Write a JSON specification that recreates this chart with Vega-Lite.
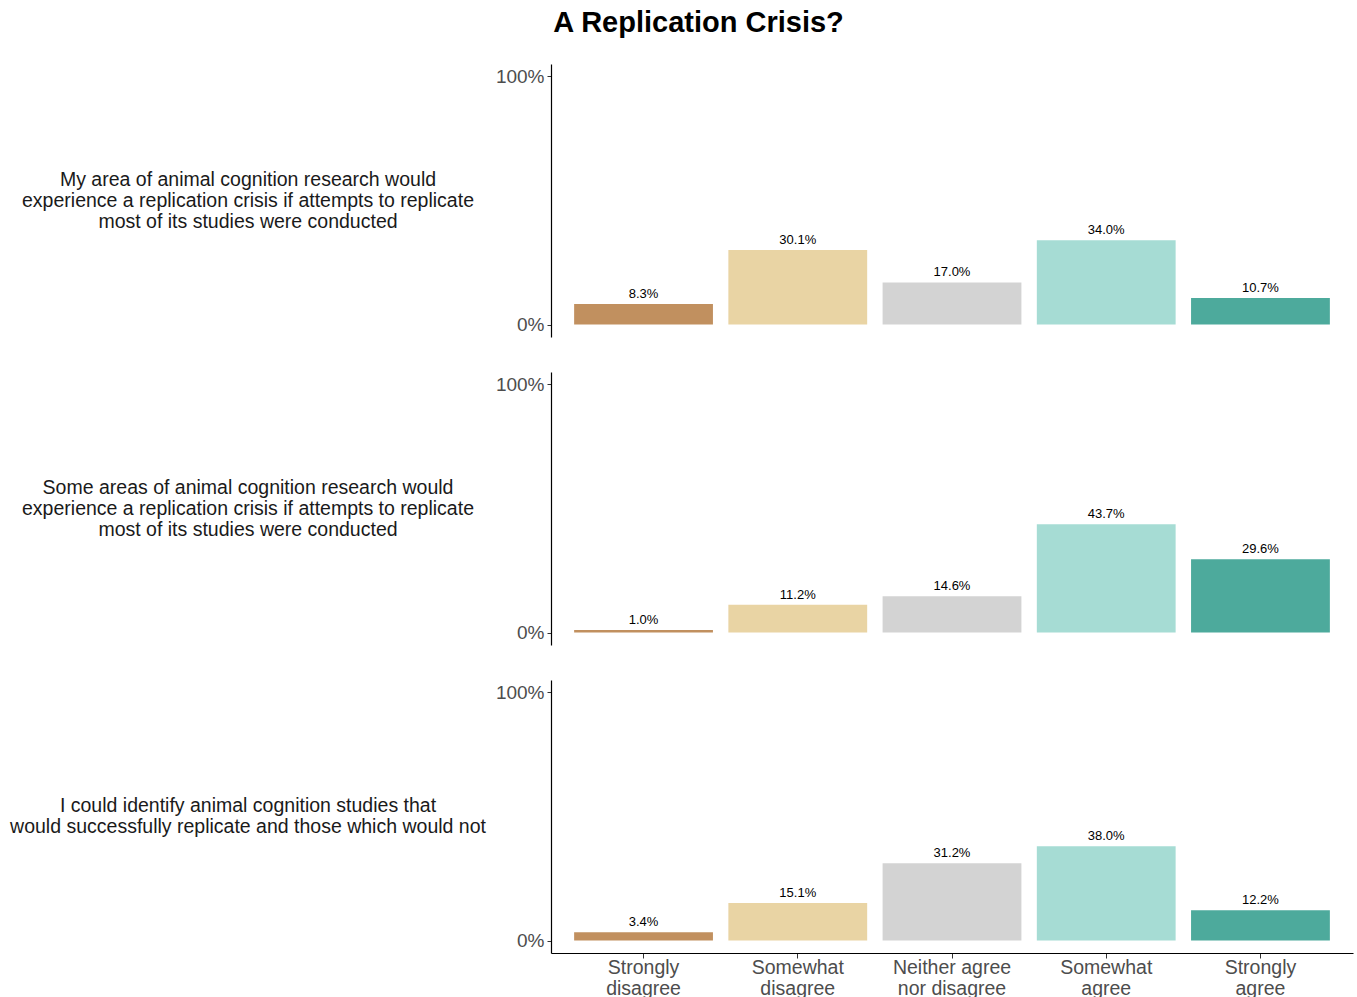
{
  "$schema": "https://vega.github.io/schema/vega-lite/v6.json",
  "padding": {"left": 10, "top": 9, "right": 4, "bottom": 0},
  "title": {"text": "A Replication Crisis?", "fontSize": 29, "fontWeight": "bold", "font": "Liberation Sans", "color": "#000000", "anchor": "middle", "offset": 26, "dx": 17},
  "datasets": {
    "questions": [
      {"qid": 1, "q": "My area of animal cognition research would\nexperience a replication crisis if attempts to replicate\nmost of its studies were conducted"},
      {"qid": 2, "q": "Some areas of animal cognition research would\nexperience a replication crisis if attempts to replicate\nmost of its studies were conducted"},
      {"qid": 3, "q": "I could identify animal cognition studies that\nwould successfully replicate and those which would not"}
    ],
    "responses": [
      {"qid": 1, "response": "Strongly disagree", "pct": 0.083},
      {"qid": 1, "response": "Somewhat disagree", "pct": 0.301},
      {"qid": 1, "response": "Neither agree nor disagree", "pct": 0.170},
      {"qid": 1, "response": "Somewhat agree", "pct": 0.340},
      {"qid": 1, "response": "Strongly agree", "pct": 0.107},
      {"qid": 2, "response": "Strongly disagree", "pct": 0.010},
      {"qid": 2, "response": "Somewhat disagree", "pct": 0.112},
      {"qid": 2, "response": "Neither agree nor disagree", "pct": 0.146},
      {"qid": 2, "response": "Somewhat agree", "pct": 0.437},
      {"qid": 2, "response": "Strongly agree", "pct": 0.296},
      {"qid": 3, "response": "Strongly disagree", "pct": 0.034},
      {"qid": 3, "response": "Somewhat disagree", "pct": 0.151},
      {"qid": 3, "response": "Neither agree nor disagree", "pct": 0.312},
      {"qid": 3, "response": "Somewhat agree", "pct": 0.380},
      {"qid": 3, "response": "Strongly agree", "pct": 0.122}
    ]
  },
  "spacing": 35,
  "vconcat": [
    {
      "bounds": "flush",
      "spacing": 65,
      "hconcat": [
        {
          "data": {"name": "questions"},
          "transform": [{"filter": "datum.qid == 1"}],
          "width": 476, "height": 273,
          "mark": {"type": "text", "lineBreak": "\n", "font": "Liberation Sans", "fontSize": 19.5, "lineHeight": 21, "align": "center", "baseline": "middle", "dy": -21, "color": "#1A1A1A"},
          "encoding": {"text": {"field": "q", "type": "nominal"}}
        },
        {
          "data": {"name": "responses"},
          "transform": [{"filter": "datum.qid == 1"}],
          "width": 802, "height": 273,
          "encoding": {
            "x": {
              "field": "response", "type": "nominal",
              "sort": ["Strongly disagree", "Somewhat disagree", "Neither agree nor disagree", "Somewhat agree", "Strongly agree"],
              "scale": {"paddingInner": 0.1, "paddingOuter": 0.15},
              "axis": null
            },
            "y": {
              "field": "pct", "type": "quantitative",
              "scale": {"domain": [-0.05, 1.05], "nice": false, "zero": false},
              "axis": {"title": null, "values": [0, 1], "format": ".0%"}
            }
          },
          "layer": [
            {
              "mark": {"type": "bar"},
              "encoding": {
                "y2": {"datum": 0},
                "color": {"field": "response", "type": "nominal", "legend": null, "scale": {"domain": ["Strongly disagree", "Somewhat disagree", "Neither agree nor disagree", "Somewhat agree", "Strongly agree"], "range": ["#C1905F", "#E9D4A4", "#D3D3D3", "#A6DCD4", "#4DAA9C"]}}
              }
            },
            {
              "mark": {"type": "text", "baseline": "bottom", "dy": -3, "font": "Liberation Sans", "fontSize": 13, "color": "#000000"},
              "encoding": {"text": {"field": "pct", "type": "quantitative", "format": ".1%"}}
            }
          ]
        }
      ]
    },
    {
      "bounds": "flush",
      "spacing": 65,
      "hconcat": [
        {
          "data": {"name": "questions"},
          "transform": [{"filter": "datum.qid == 2"}],
          "width": 476, "height": 273,
          "mark": {"type": "text", "lineBreak": "\n", "font": "Liberation Sans", "fontSize": 19.5, "lineHeight": 21, "align": "center", "baseline": "middle", "dy": -21, "color": "#1A1A1A"},
          "encoding": {"text": {"field": "q", "type": "nominal"}}
        },
        {
          "data": {"name": "responses"},
          "transform": [{"filter": "datum.qid == 2"}],
          "width": 802, "height": 273,
          "encoding": {
            "x": {
              "field": "response", "type": "nominal",
              "sort": ["Strongly disagree", "Somewhat disagree", "Neither agree nor disagree", "Somewhat agree", "Strongly agree"],
              "scale": {"paddingInner": 0.1, "paddingOuter": 0.15},
              "axis": null
            },
            "y": {
              "field": "pct", "type": "quantitative",
              "scale": {"domain": [-0.05, 1.05], "nice": false, "zero": false},
              "axis": {"title": null, "values": [0, 1], "format": ".0%"}
            }
          },
          "layer": [
            {
              "mark": {"type": "bar"},
              "encoding": {
                "y2": {"datum": 0},
                "color": {"field": "response", "type": "nominal", "legend": null, "scale": {"domain": ["Strongly disagree", "Somewhat disagree", "Neither agree nor disagree", "Somewhat agree", "Strongly agree"], "range": ["#C1905F", "#E9D4A4", "#D3D3D3", "#A6DCD4", "#4DAA9C"]}}
              }
            },
            {
              "mark": {"type": "text", "baseline": "bottom", "dy": -3, "font": "Liberation Sans", "fontSize": 13, "color": "#000000"},
              "encoding": {"text": {"field": "pct", "type": "quantitative", "format": ".1%"}}
            }
          ]
        }
      ]
    },
    {
      "bounds": "flush",
      "spacing": 65,
      "hconcat": [
        {
          "data": {"name": "questions"},
          "transform": [{"filter": "datum.qid == 3"}],
          "width": 476, "height": 273,
          "mark": {"type": "text", "lineBreak": "\n", "font": "Liberation Sans", "fontSize": 19.5, "lineHeight": 21, "align": "center", "baseline": "middle", "dy": -10.5, "color": "#1A1A1A"},
          "encoding": {"text": {"field": "q", "type": "nominal"}}
        },
        {
          "data": {"name": "responses"},
          "transform": [{"filter": "datum.qid == 3"}],
          "width": 802, "height": 273,
          "encoding": {
            "x": {
              "field": "response", "type": "nominal",
              "sort": ["Strongly disagree", "Somewhat disagree", "Neither agree nor disagree", "Somewhat agree", "Strongly agree"],
              "scale": {"paddingInner": 0.1, "paddingOuter": 0.15},
              "axis": {
                "title": null, "labelAngle": 0, "labelPadding": 0,
                "labelExpr": "datum.label == 'Neither agree nor disagree' ? ['Neither agree', 'nor disagree'] : split(datum.label, ' ')"
              }
            },
            "y": {
              "field": "pct", "type": "quantitative",
              "scale": {"domain": [-0.05, 1.05], "nice": false, "zero": false},
              "axis": {"title": null, "values": [0, 1], "format": ".0%"}
            }
          },
          "layer": [
            {
              "mark": {"type": "bar"},
              "encoding": {
                "y2": {"datum": 0},
                "color": {"field": "response", "type": "nominal", "legend": null, "scale": {"domain": ["Strongly disagree", "Somewhat disagree", "Neither agree nor disagree", "Somewhat agree", "Strongly agree"], "range": ["#C1905F", "#E9D4A4", "#D3D3D3", "#A6DCD4", "#4DAA9C"]}}
              }
            },
            {
              "mark": {"type": "text", "baseline": "bottom", "dy": -3, "font": "Liberation Sans", "fontSize": 13, "color": "#000000"},
              "encoding": {"text": {"field": "pct", "type": "quantitative", "format": ".1%"}}
            }
          ]
        }
      ]
    }
  ],
  "config": {
    "view": {"stroke": null},
    "background": "#FFFFFF",
    "axis": {
      "grid": false,
      "labelFont": "Liberation Sans", "labelFontSize": 19, "labelColor": "#4D4D4D", "labelPadding": 3,
      "labelLineHeight": 21,
      "domainColor": "#000000", "domainWidth": 1.2, "tickColor": "#333333", "tickSize": 4
    },
    "axisX": {"labelFontSize": 19.5, "tickSize": 5}
  }
}
